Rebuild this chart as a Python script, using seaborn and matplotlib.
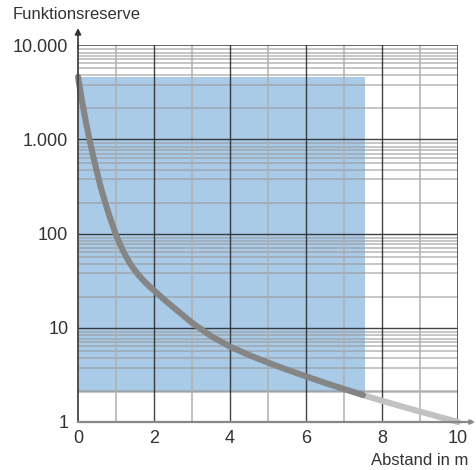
import numpy as np
import pandas as pd
import matplotlib
matplotlib.use("Agg")
import matplotlib.pyplot as plt
import seaborn as sns
from matplotlib.patches import Rectangle

# ---- data ----
distance_in_range = [0, 0.05, 0.1, 0.2, 0.3, 0.4, 0.5, 0.6, 0.7, 0.8, 0.9, 1.0,
                     1.1, 1.2, 1.3, 1.4, 1.5, 1.6, 1.7, 1.8, 1.9, 2.0, 2.25,
                     2.5, 3.0, 3.5, 4.0, 4.5, 5.0, 5.5, 6.0, 6.5, 7.0, 7.5]
reserve_in_range = [4600, 3470, 2630, 1585, 1000, 661, 447, 309, 224, 166, 126, 96.6,
                    77.6, 63.8, 53.7, 46.1, 40.4, 36.0, 32.4, 29.5, 27.0, 24.9, 20.2,
                    16.6, 11.3, 8.17, 6.31, 5.13, 4.27, 3.59, 3.05, 2.60, 2.24, 1.93]
distance_beyond = [7.5, 8.0, 8.5, 9.0, 9.5, 10.0]
reserve_beyond = [1.93, 1.68, 1.47, 1.29, 1.135, 1.0]

range_x = [0, 7.55]
range_y = [2.1, 4600]

x_ticks = [0, 2, 4, 6, 8, 10]
x_ticklabels = ["0", "2", "4", "6", "8", "10"]
y_ticks = [1, 10, 100, 1000, 10000]
y_ticklabels = ["1", "10", "100", "1.000", "10.000"]

x_label = "Abstand in m"
y_label = "Funktionsreserve"

# ---- style ----
sns.set_style("white")
plt.rcParams["font.family"] = ["Liberation Sans", "DejaVu Sans"]
text_color = "#333333"

fig = plt.figure(figsize=(4.76, 4.70), dpi=100)
ax = fig.add_axes([78 / 476, 1 - 422 / 470, 380 / 476, 377 / 470])
ax.set_yscale("log")
ax.set_xlim(0, 10)
ax.set_ylim(1, 10000)

# blue range area
ax.add_patch(Rectangle((range_x[0], range_y[0]), range_x[1] - range_x[0],
                       range_y[1] - range_y[0], facecolor="#a9cbe8",
                       edgecolor="none", zorder=0.5))

# grid
minor_offsets = [4.2, 7.7, 11, 14.5, 18.5, 23.5, 30.5, 40, 63.5]  # px from decade top
for d in range(4):
    top = 10 ** (d + 1)
    for off in minor_offsets:
        ax.axhline(top * 10 ** (-off / 94.3), color="#999999", lw=1.1, alpha=0.7, zorder=1)
ax.axhline(range_y[0], color="#999999", lw=1.1, alpha=0.7, zorder=1)
for v in [10, 100, 1000]:
    ax.axhline(v, color="#222222", lw=1.0, alpha=0.85, zorder=1.1)
ax.axhline(10000, color="#555555", lw=1.3, zorder=1.1)
for v in [1, 3, 5, 7, 9]:
    ax.axvline(v, color="#b0b0b0", lw=1.3, alpha=0.85, zorder=1)
for v in [2, 4, 6, 8]:
    ax.axvline(v, color="#222222", lw=1.0, alpha=0.85, zorder=1.1)
ax.axvline(10, color="#555555", lw=1.3, zorder=1.1)

# curves
df_in = pd.DataFrame({"Abstand": distance_in_range, "Reserve": reserve_in_range})
df_out = pd.DataFrame({"Abstand": distance_beyond, "Reserve": reserve_beyond})
sns.lineplot(data=df_out, x="Abstand", y="Reserve", ax=ax, color="#c2c2c2",
             lw=4.4, solid_capstyle="round", solid_joinstyle="round",
             zorder=3, clip_on=False)
sns.lineplot(data=df_in, x="Abstand", y="Reserve", ax=ax, color="#858585",
             lw=4.4, solid_capstyle="round", solid_joinstyle="round",
             zorder=4, clip_on=False)

# spines
for s in ["top", "right"]:
    ax.spines[s].set_visible(False)
ax.spines["left"].set_color("#444444")
ax.spines["left"].set_linewidth(1.3)
ax.spines["bottom"].set_color("#888888")
ax.spines["bottom"].set_linewidth(1.6)
ax.spines["left"].set_zorder(5)
ax.spines["bottom"].set_zorder(5)

ax.annotate("", xy=(0, 1.045), xytext=(0, 0.99), xycoords="axes fraction",
            arrowprops=dict(arrowstyle="-|>", color="#333333", lw=1.2,
                            mutation_scale=9, shrinkA=0, shrinkB=0))
ax.annotate("", xy=(1.045, 0), xytext=(0.99, 0), xycoords="axes fraction",
            arrowprops=dict(arrowstyle="-|>", color="#888888", lw=1.6,
                            mutation_scale=6, shrinkA=0, shrinkB=0))

# ticks
ax.set_xticks(x_ticks)
ax.set_xticklabels(x_ticklabels)
ax.set_yticks(y_ticks)
ax.set_yticklabels(y_ticklabels)
ax.yaxis.set_minor_locator(matplotlib.ticker.NullLocator())
ax.tick_params(axis="both", length=0, labelsize=13, colors=text_color)
ax.tick_params(axis="y", pad=7)
ax.tick_params(axis="x", pad=6)
ax.set_xlabel("")
ax.set_ylabel("")

fig.text(12.5 / 476, 1 - 19 / 470, y_label, fontsize=12, color=text_color,
         ha="left", va="baseline")
fig.text(468 / 476, 1 - 465 / 470, x_label, fontsize=12, color=text_color,
         ha="right", va="baseline")

fig.savefig("out.png", dpi=100)
